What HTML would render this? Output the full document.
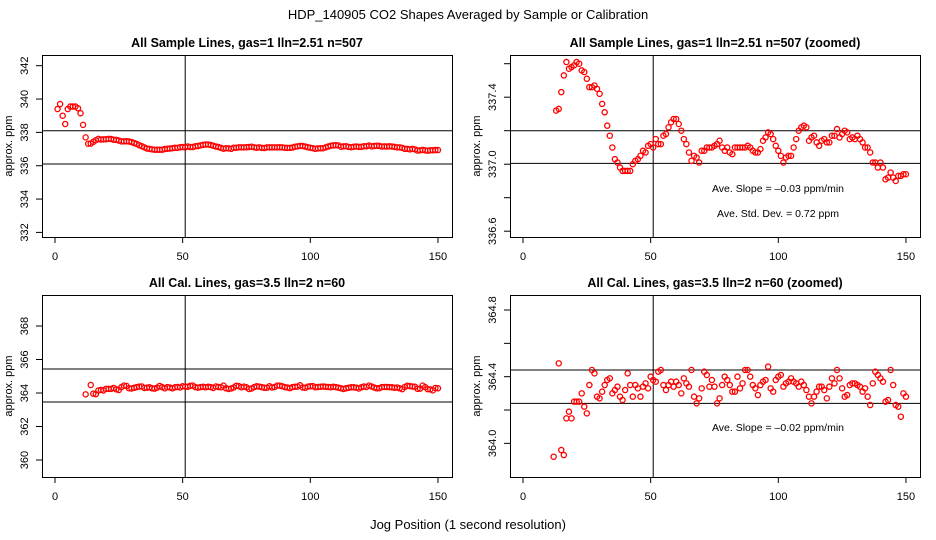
<!DOCTYPE html>
<html><head><meta charset="utf-8"><style>
body{margin:0;background:#fff;}
svg{display:block;font-family:"Liberation Sans",sans-serif;}
</style></head><body>
<svg id="c" width="936" height="540" xmlns="http://www.w3.org/2000/svg">
<text x="468" y="19" text-anchor="middle" font-size="13">HDP_140905  CO2 Shapes Averaged by Sample or Calibration</text>
<text x="468" y="529" text-anchor="middle" font-size="13">Jog Position (1 second resolution)</text>
</svg>
<script>
const xTicks=[0,50,100,150];
const sampleStart=1;
const sampleValues=[339.4,339.7,339.0,338.5,339.4,339.55,339.55,339.55,339.45,339.15,338.45,337.7,
337.32,337.33,337.43,337.53,337.61,337.57,337.58,337.59,337.61,337.60,337.56,337.55,337.51,337.46,337.46,337.47,337.45,337.42,
337.36,337.31,337.23,337.17,337.10,337.03,337.01,336.98,336.96,336.96,336.96,336.96,337.00,337.02,337.03,337.05,337.08,337.07,337.11,337.12,
337.10,337.15,337.12,337.12,337.17,337.18,337.22,337.25,337.27,337.27,337.24,337.20,337.15,337.12,337.07,337.02,337.05,337.04,337.01,337.08,
337.08,337.10,337.10,337.10,337.11,337.12,337.14,337.10,337.08,337.10,337.07,337.06,337.10,337.10,337.10,337.10,337.10,337.11,337.10,337.08,
337.07,337.07,337.09,337.14,337.16,337.19,337.18,337.15,337.11,337.08,337.05,337.01,337.04,337.05,337.05,337.10,337.15,337.20,337.22,337.23,
337.22,337.14,337.16,337.17,337.13,337.11,337.14,337.15,337.13,337.13,337.17,337.17,337.21,337.16,337.18,337.20,337.19,337.15,337.16,337.15,
337.17,337.15,337.13,337.10,337.10,337.07,337.01,337.01,336.98,337.01,336.98,336.91,336.92,336.95,336.92,336.90,336.93,336.93,336.94,336.94];
const calStart=12;
const calValues=[363.92,null,364.48,363.96,363.93,364.15,364.19,364.15,364.25,364.25,364.25,364.30,364.22,364.18,364.35,364.44,364.42,364.28,364.27,
364.31,364.35,364.38,364.39,364.30,364.32,364.34,364.28,364.26,364.32,364.42,364.35,364.28,364.35,364.33,364.28,364.34,364.36,364.33,364.40,
364.38,364.37,364.43,364.44,364.35,364.32,364.35,364.37,364.34,364.37,364.35,364.30,364.39,364.36,364.34,364.44,364.28,364.24,364.27,364.33,
364.43,364.41,364.34,364.38,364.34,364.24,364.27,364.35,364.40,364.38,364.35,364.31,364.31,364.40,364.33,364.36,364.44,364.44,364.40,364.35,
364.33,364.29,364.35,364.37,364.38,364.46,364.33,364.31,364.38,364.40,364.41,364.34,364.36,364.37,364.39,364.37,364.36,364.34,364.37,364.35,
364.32,364.28,364.24,364.28,364.31,364.34,364.34,364.32,364.27,364.34,364.39,364.36,364.44,364.39,364.33,364.28,364.29,364.35,364.36,364.36,
364.35,364.34,364.31,364.33,364.28,364.23,364.36,364.43,364.41,364.39,364.37,364.25,364.26,364.44,364.35,364.23,364.22,364.16,364.30,364.28];
const tlYTicks=[332,334,336,338,340,342];
const tlHLines=[338.1,336.1];
const trYTicks=[336.6,336.8,337.0,337.2,337.4,337.6];
const trYLabels=["336.6","","337.0","","337.4",""];
const trHLines=[337.2,337.005];
const blYTicks=[360,362,364,366,368];
const blHLines=[365.43,363.46];
const brYTicks=[364.0,364.2,364.4,364.6,364.8];
const brYLabels=["364.0","","364.4","","364.8"];
const brHLines=[364.44,364.24];
const vLine=51;

const NS="http://www.w3.org/2000/svg";
const svg=document.getElementById('c');
function mk(tag,attrs,parent){const e=document.createElementNS(NS,tag);for(const k in attrs)e.setAttribute(k,attrs[k]);(parent||svg).appendChild(e);return e;}

function panel(o){
  const g=mk('g',{});
  
  
  const L=o.left,R=o.left+410,T=o.top,B=o.top+182;
  const x=v=>L+13+v*2.553;
  const y=v=>o.y0+(o.v0-v)*o.k;
  const box=mk('rect',{x:L+0.5,y:T+0.5,width:410,height:182,fill:'none',stroke:'#000','stroke-width':1},g);
  
  
  const t=mk('text',{x:L+205,y:T-8,'text-anchor':'middle','font-size':12.5,'font-weight':'bold'},g);
  t.textContent=o.title;
  
  
  xTicks.forEach(v=>{
    mk('line',{x1:x(v),x2:x(v),y1:B,y2:B+6,stroke:'#000'},g);
    const tx=mk('text',{x:x(v),y:B+23,'text-anchor':'middle','font-size':11},g);
    tx.textContent=v;
    
    
  });
  o.yt.forEach((v,i)=>{
    mk('line',{x1:L-6,x2:L,y1:y(v),y2:y(v),stroke:'#000'},g);
    const lab=o.yl?o.yl[i]:String(v);
    if(lab){
      const ty=mk('text',{x:L-14,y:y(v),'text-anchor':'middle','font-size':11,transform:`rotate(-90 ${L-14} ${y(v)})`},g);
      ty.textContent=lab;
      
      
    }
  });
  const yl=mk('text',{x:L-30,y:(T+B)/2,'text-anchor':'middle','font-size':11,transform:`rotate(-90 ${L-30} ${(T+B)/2})`},g);
  yl.textContent='approx. ppm';
  
  
  o.h.forEach(v=>{
    const l=mk('line',{x1:L,x2:R,y1:y(v),y2:y(v),stroke:'#000','stroke-width':1},g);
    
    
  });
  const vl=mk('line',{x1:x(vLine),x2:x(vLine),y1:T,y2:B,stroke:'#000','stroke-width':1},g);
  
  
  o.vals.forEach((v,i)=>{
    if(v===null)return;
    const yy=y(v);
    if(yy<T||yy>B)return;
    const c=mk('circle',{cx:x(o.start+i),cy:yy,r:2.6,fill:'none',stroke:'#f00','stroke-width':1.3},g);
    
    
  });
  (o.notes||[]).forEach(n=>{
    const tn=mk('text',{x:L+268,y:n[1],'text-anchor':'middle','font-size':10.5},g);
    tn.textContent=n[0];
    
    
  });
}
panel({name:'panel-sample-lines',left:42,top:55,title:'All Sample Lines, gas=1 lln=2.51 n=507',y0:65.7,v0:342,k:16.67,yt:tlYTicks,h:tlHLines,vals:sampleValues,start:sampleStart});
panel({name:'panel-sample-lines-zoomed',left:510,top:55,title:'All Sample Lines, gas=1 lln=2.51 n=507 (zoomed)',y0:63.7,v0:337.6,k:167.5,yt:trYTicks,yl:trYLabels,h:trHLines,vals:sampleValues,start:sampleStart,
 notes:[['Ave. Slope =  \u20130.03  ppm/min',192],['Ave. Std. Dev. =  0.72  ppm',217]]});
panel({name:'panel-cal-lines',left:42,top:295,title:'All Cal. Lines, gas=3.5 lln=2 n=60',y0:326,v0:368,k:16.75,yt:blYTicks,h:blHLines,vals:calValues,start:calStart});
panel({name:'panel-cal-lines-zoomed',left:510,top:295,title:'All Cal. Lines, gas=3.5 lln=2 n=60 (zoomed)',y0:310,v0:364.8,k:166.7,yt:brYTicks,yl:brYLabels,h:brHLines,vals:calValues,start:calStart,
 notes:[['Ave. Slope =  \u20130.02  ppm/min',431]]});
</script>
</body></html>
